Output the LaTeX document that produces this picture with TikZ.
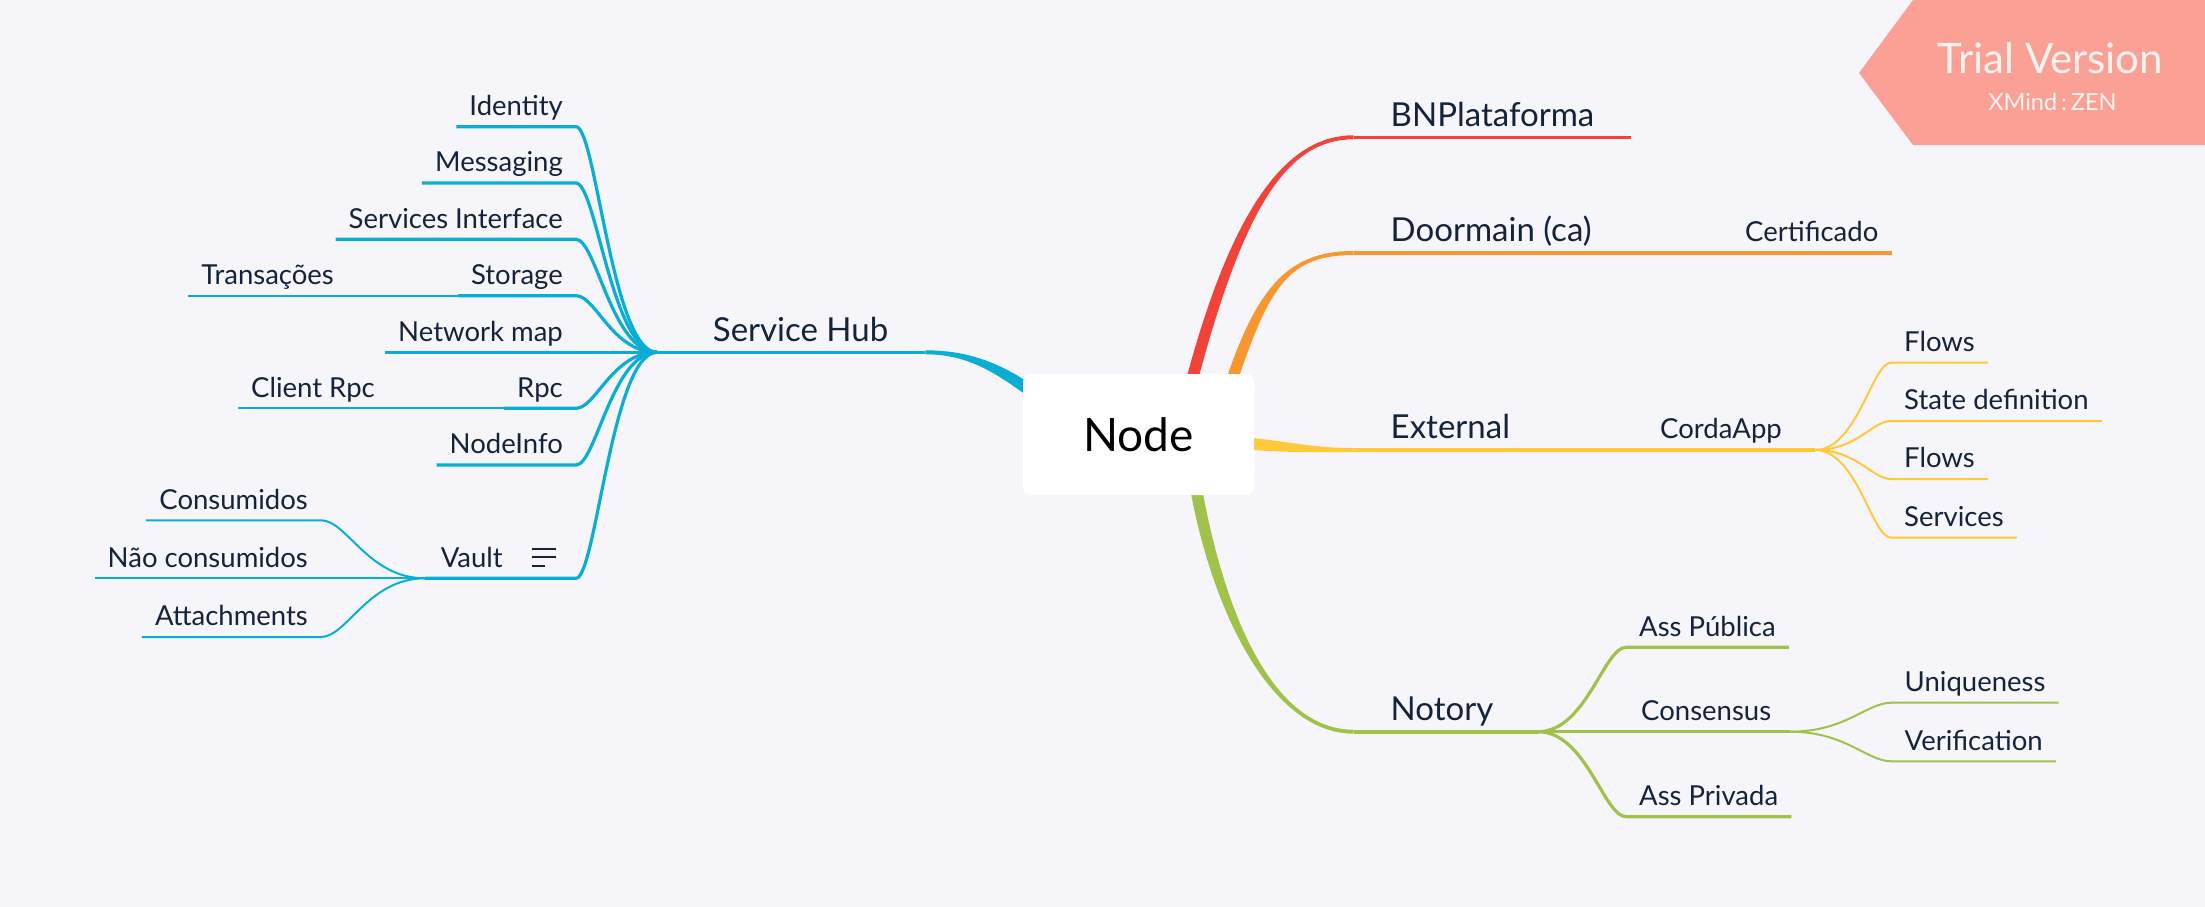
\documentclass[tikz,border=0pt]{standalone}
\usepackage{fontspec}
\setmainfont{Lato}
\usepackage{tikz}
\usetikzlibrary{positioning}
\usepackage{xcolor}
\definecolor{bgpaper}{HTML}{F5F5FA}
\definecolor{hubblue}{HTML}{0AAED4}
\definecolor{bnred}{HTML}{F2433A}
\definecolor{doorange}{HTML}{F8962F}
\definecolor{extyellow}{HTML}{FFC93A}
\definecolor{notgreen}{HTML}{A1C24A}
\definecolor{ink}{HTML}{15233A}
\definecolor{trialpink}{HTML}{FAA095}
\definecolor{trialtext}{HTML}{FDF2F0}
\pgfdeclarelayer{back}
\pgfsetlayers{back,main}

\begin{document}
\begin{tikzpicture}[x=1pt, y=-1pt,
        every node/.style = {inner ysep=11pt, text depth=0pt, text=ink},
        topic/.style = {inner xsep=37pt, font=\fontsize{33}{38}\selectfont},
        sub/.style = {inner xsep=13pt, font=\fontsize{27.5}{32}\selectfont},
        l1/.style = {line width=3.6pt, draw=#1, line join=round},
        l2/.style = {line width=3.2pt, draw=#1, line join=round},
        l3/.style = {line width=2pt, draw=#1, line join=round}
        ]
        \useasboundingbox (0,0) rectangle (2205,907);
        \begin{pgfonlayer}{back}
        \fill[bgpaper] (0,0) rectangle (2205,907);
        \end{pgfonlayer}
        % trial banner
        \fill[trialpink] (1859,73) -- (1913,0) -- (2205,0) -- (2205,145) -- (1913,145) -- cycle;
        \node (trial) [anchor=base, text=trialtext, font=\fontsize{42}{48}\selectfont] at (2050.5,74) {Trial Version};
        \node (zen) [anchor=base, text=trialtext, font=\fontsize{23.5}{27}\selectfont] at (2052.5,110.7) {XMind\,:\,ZEN};

        % central topic
        \node (nd) [fill=white, rounded corners=8pt, minimum width=231pt, minimum height=121pt, inner sep=0pt,
                text=black, font=\fontsize{46}{52}\selectfont] at (1138.5,434.5) {Node};

        % left side
        \node (shub) [topic, anchor=south west] at (675.7,352.3) {Service Hub};
        \node (ident) [sub, anchor=south east] at (576,126.7) {Identity};
        \node (msg) [sub, anchor=south east] at (576,183) {Messaging};
        \node (svcif) [sub, anchor=south east] at (576,239.3) {Services Interface};
        \node (stor) [sub, anchor=south east] at (576,295.7) {Storage};
        \node (trans) [sub, anchor=south east] at (347,295.7) {Transações};
        \node (netmap) [sub, anchor=south east] at (576,352.3) {Network map};
        \node (rpc) [sub, anchor=south east] at (576,408.3) {Rpc};
        \node (clrpc) [sub, anchor=south east] at (388,408.3) {Client Rpc};
        \node (ninfo) [sub, anchor=south east] at (576,465) {NodeInfo};
        \node (vault) [sub, anchor=south east] at (576,578.3) {Vault\kern60pt};
        \node (cons) [sub, anchor=south east] at (321,520.3) {Consumidos};
        \node (naocons) [sub, anchor=south east] at (321,578.3) {Não consumidos};
        \node (attach) [sub, anchor=south east] at (321,637) {Attachments};
        \coordinate (shubhub) at (657,352.3);
        \coordinate (vaulthub) at (425,578.3);

        % right side
        \node (bnp) [topic, anchor=south west] at (1353.5,137.3) {BNPlataforma};
        \node (door) [topic, anchor=south west] at (1353.5,253) {Doormain (ca)};
        \node (cert) [sub, anchor=south west] at (1732,253) {Certificado};
        \node (ext) [topic, anchor=south west] at (1353.5,450) {External};
        \node (corda) [sub, anchor=south west] at (1647,450) {CordaApp};
        \node (flowsa) [sub, anchor=south west] at (1891,362.7) {Flows};
        \node (statedef) [sub, anchor=south west] at (1891,421) {State definition};
        \node (flowsb) [sub, anchor=south west] at (1891,479) {Flows};
        \node (svcs) [sub, anchor=south west] at (1891,537.7) {Services};
        \node (notory) [topic, anchor=south west] at (1353.5,731.7) {Notory};
        \node (asspub) [sub, anchor=south west] at (1626,647.3) {Ass Pública};
        \node (consen) [sub, anchor=south west] at (1628,731.7) {Consensus};
        \node (asspriv) [sub, anchor=south west] at (1626,816.7) {Ass Privada};
        \node (uniq) [sub, anchor=south west] at (1891.5,702.7) {Uniqueness};
        \node (verif) [sub, anchor=south west] at (1891.5,761.3) {Verification};
        \coordinate (cordahub) at (1815,450);
        \coordinate (notoryhub) at (1538,731.7);
        \coordinate (consenhub) at (1790,731.7);

        % tapered main branches, under the central box
        \begin{pgfonlayer}{back}
        \fill[hubblue] ([shift={(0,-2)}]shub.south east) .. controls +(43,0) and +(-40,-30) .. ([shift={(20.6,19.2)}]nd.north west)
                -- ([shift={(13.4,28.8)}]nd.north west) .. controls +(-40,-30) and +(43,0) .. ([shift={(0,2)}]shub.south east) -- cycle;
        \fill[bnred] ([shift={(47.5,6)}]nd.north) .. controls +(48,-180) and +(-63.5,0) .. ([shift={(0,-2)}]bnp.south west)
                -- ([shift={(0,2)}]bnp.south west) .. controls +(-63.5,0) and +(48,-180) .. ([shift={(59.5,6)}]nd.north) -- cycle;
        \fill[doorange] ([shift={(87.5,6)}]nd.north) .. controls +(32,-95) and +(-63.5,0) .. ([shift={(0,-2)}]door.south west)
                -- ([shift={(0,2)}]door.south west) .. controls +(-63.5,0) and +(32,-95) .. ([shift={(99.5,6)}]nd.north) -- cycle;
        \fill[extyellow] ([shift={(-14,2.5)}]nd.east) .. controls +(50,4) and +(-45,0) .. ([shift={(0,-2)}]ext.south west)
                -- ([shift={(0,2)}]ext.south west) .. controls +(-45,0) and +(50,4) .. ([shift={(-14,14.5)}]nd.east) -- cycle;
        \fill[notgreen] ([shift={(51.5,-7)}]nd.south) .. controls +(24,132) and +(-78.5,0) .. ([shift={(0,2)}]notory.south west)
                -- ([shift={(0,-2)}]notory.south west) .. controls +(-78.5,0) and +(24,132) .. ([shift={(63.5,-7)}]nd.south) -- cycle;
        \end{pgfonlayer}

        % left connectors
        \draw[l1=hubblue] (shubhub) -- (shub.south east);
        \foreach \n in {ident,msg,svcif,stor,rpc,ninfo}
            \draw[l2=hubblue] (shubhub) .. controls +(-45,0) and +(20,0) .. (\n.south east) -- (\n.south west);
        \draw[l2=hubblue] (shubhub) -- (netmap.south east) -- (netmap.south west);
        \draw[l2=hubblue] (shubhub) .. controls +(-45,0) and +(20,0) .. (vault.south east) -- (vaulthub);
        \draw[l3=hubblue] (stor.south west) -- (trans.south east) -- (trans.south west);
        \draw[l3=hubblue] (rpc.south west) -- (clrpc.south east) -- (clrpc.south west);
        \draw[l3=hubblue] (vaulthub) -- (naocons.south east) -- (naocons.south west);
        \foreach \n in {cons,attach}
            \draw[l3=hubblue] (vaulthub) .. controls +(-57,0) and +(26,0) .. (\n.south east) -- (\n.south west);
        % note icon
        \draw[ink, line width=2pt] ([shift={(-44,-29)}]vault.south east) -- +(24,0);
        \draw[ink, line width=2pt] ([shift={(-44,-21)}]vault.south east) -- +(24,0);
        \draw[ink, line width=2pt] ([shift={(-44,-12.6)}]vault.south east) -- +(13,0);

        % right connectors
        \draw[l1=bnred] (bnp.south west) -- (bnp.south east);
        \draw[l1=doorange] (door.south west) -- (door.south east);
        \draw[l2=doorange] (door.south east) -- (cert.south west) -- (cert.south east);
        \draw[l1=extyellow] (ext.south west) -- (ext.south east);
        \draw[l2=extyellow] (ext.south east) -- (corda.south west) -- (cordahub);
        \foreach \n in {flowsa,statedef,flowsb,svcs}
            \draw[l3=extyellow] (cordahub) .. controls +(42,0) and +(-19,0) .. (\n.south west) -- (\n.south east);
        \draw[l1=notgreen] (notory.south west) -- (notoryhub);
        \draw[l2=notgreen] (notoryhub) -- (consenhub);
        \foreach \n in {asspub,asspriv}
            \draw[l2=notgreen] (notoryhub) .. controls +(48,0) and +(-22,0) .. (\n.south west) -- (\n.south east);
        \foreach \n in {uniq,verif}
            \draw[l3=notgreen] (consenhub) .. controls +(56,0) and +(-25,0) .. (\n.south west) -- (\n.south east);
\end{tikzpicture}
\end{document}
